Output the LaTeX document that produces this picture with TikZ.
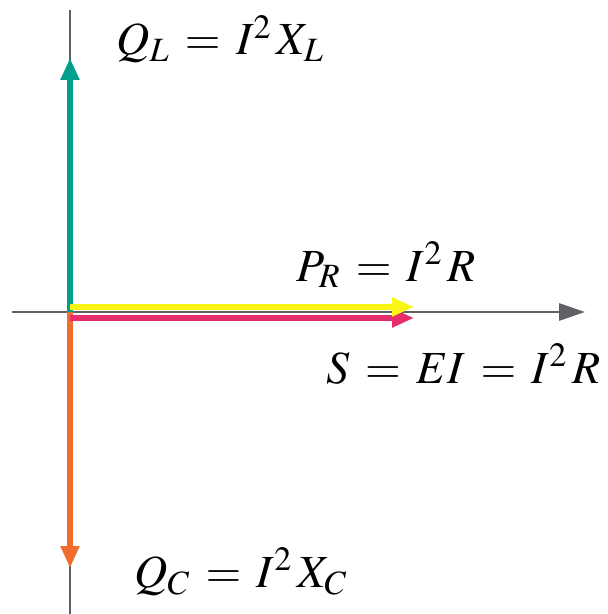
\documentclass[tikz,border=0pt]{standalone}
\usepackage{mathptmx}
\usepackage{tikz}
\usetikzlibrary{arrows.meta}

\definecolor{axisgray}{RGB}{95,95,100}
\definecolor{qlteal}{RGB}{0,160,140}
\definecolor{qcorange}{RGB}{240,110,45}
\definecolor{pryellow}{RGB}{250,245,20}
\definecolor{smagenta}{RGB}{230,45,110}

\thickmuskip=6mu\relax

\begin{document}
\begin{tikzpicture}[
  x=0.5pt, y=-0.5pt,
  axis/.style={draw=axisgray, line width=1.4pt},
  phasor/.style={line width=2.6pt, -{Triangle[length=11pt, width=9pt]}},
  lbl/.style={anchor=base west, inner sep=0pt,
              font=\fontsize{23}{27}\selectfont},
]
\useasboundingbox (0,0) rectangle (608,614);

% axes
\coordinate (o) at (70,312);
\coordinate (top) at (70,10);
\coordinate (bot) at (70,614);
\coordinate (left) at (12,312);
\coordinate (right) at (585,312);
\draw[axis] (top) -- (bot);
\draw[axis, -{Triangle[length=13pt, width=8.5pt]}] (left) -- (right);

% phasors
\coordinate (ql) at (70,58);
\coordinate (qc) at (70,568);
\coordinate (pr) at (414,307);
\coordinate (sr) at (414,318);
\draw[phasor, qlteal] (o) -- (ql);
\draw[phasor, qcorange] (o) -- (qc);
\draw[phasor, smagenta] ([yshift=-3pt]o) -- (sr);
\draw[phasor, pryellow] ([yshift=2.5pt]o) -- (pr);

% labels
\node[lbl] (qllbl) at (116,55) {$Q_L = I^2\,X_L$};
\node[lbl] (prlbl) at (296,281) {$P_R = I^2\,R$};
\node[lbl] (slbl) at (326,383) {$S = EI = I^2\,R$};
\node[lbl] (qclbl) at (134,587) {$Q_C = I^2\,X_C$};
\end{tikzpicture}
\end{document}
